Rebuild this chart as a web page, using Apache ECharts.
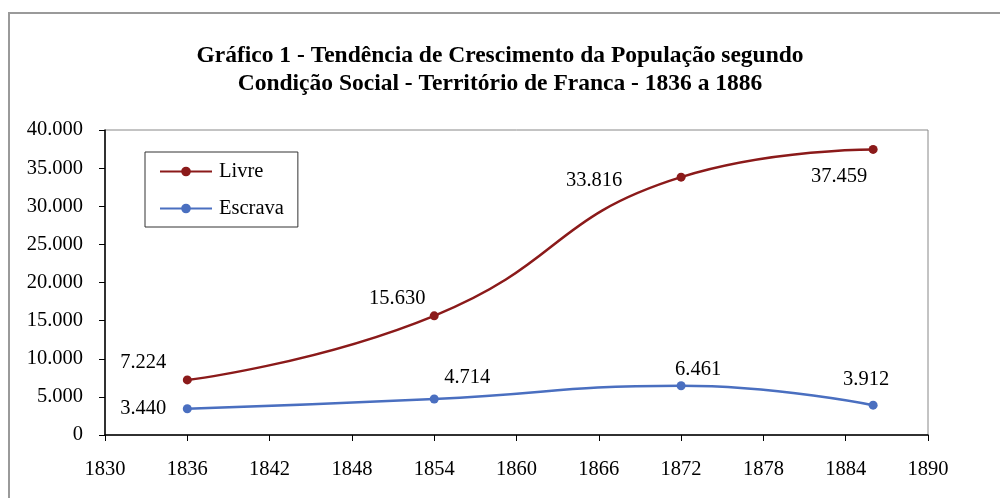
<!DOCTYPE html>
<html>
<head>
<meta charset="utf-8">
<script src="https://cdn.jsdelivr.net/npm/echarts@6/dist/echarts.min.js"></script>
<style>
  html, body { margin: 0; padding: 0; background: #fff; }
  #chart { width: 1000px; height: 498px; }
</style>
</head>
<body>
<div id="chart"></div>
<script>
// dados do gráfico
const anos = [1836, 1854, 1872, 1886]
const livre = [7224, 15630, 33816, 37459]
const escrava = [3440, 4714, 6461, 3912]
// deslocamento dos rótulos em relação ao ponto
const livreOffsets = [[-44, -17], [-37, -17], [-87, 3], [-34, 27]]
const escravaOffsets = [[-44, 0], [33, -21], [17, -16], [-7, -26]]

const serif = 'Liberation Serif'

// formata com ponto de milhar
function fmt(v) {
  return String(v).replace(/\B(?=(\d{3})+(?!\d))/g, '.')
}

function build(vals, offs) {
  return vals.map((v, i) => ({
    value: [anos[i], v],
    label: { offset: offs[i] },
  }))
}

const chart = echarts.init(document.getElementById('chart'))
chart.setOption({
  animation: false,
  graphic: [
    {
      type: 'rect',
      shape: { x: 9, y: 13, width: 1000, height: 500 },
      style: { fill: 'none', stroke: '#9a9a9a', lineWidth: 2 },
      z: 0,
    },
  ],
  title: {
    text: 'Gráfico 1 - Tendência de Crescimento da População segundo\nCondição Social - Território de Franca - 1836 a 1886',
    left: 495,
    top: 37,
    textAlign: 'center',
    textStyle: {
      fontFamily: serif,
      fontSize: 23.5,
      fontWeight: 'bold',
      color: '#000',
      lineHeight: 28,
    },
  },
  legend: {
    orient: 'vertical',
    left: 145,
    top: 152,
    padding: [9, 14, 8, 14],
    itemWidth: 52,
    itemHeight: 12,
    itemGap: 16,
    borderColor: '#333',
    borderWidth: 1,
    backgroundColor: '#fff',
    textStyle: { fontFamily: serif, fontSize: 20.5, color: '#000', padding: [0, 0, 0, 2] },
    data: ['Livre', 'Escrava'],
  },
  grid: {
    left: 105,
    right: 72,
    top: 130,
    bottom: 63,
    show: true,
    borderColor: '#888',
    borderWidth: 1,
  },
  xAxis: {
    type: 'value',
    min: 1830,
    max: 1890,
    interval: 6,
    splitLine: { show: false },
    axisLine: { lineStyle: { color: '#000', width: 1.5 } },
    axisTick: { length: 6, lineStyle: { color: '#000' } },
    axisLabel: {
      fontFamily: serif,
      fontSize: 20.5,
      color: '#000',
      margin: 24,
      formatter: v => String(v),
    },
  },
  yAxis: {
    type: 'value',
    min: 0,
    max: 40000,
    interval: 5000,
    splitLine: { show: false },
    axisLine: { show: true, lineStyle: { color: '#000', width: 1.5 } },
    axisTick: { show: true, length: 6, lineStyle: { color: '#000' } },
    axisLabel: {
      fontFamily: serif,
      fontSize: 20.5,
      color: '#000',
      margin: 22,
      formatter: fmt,
    },
  },
  series: [
    {
      name: 'Livre',
      type: 'line',
      smooth: true,
      data: build(livre, livreOffsets),
      symbol: 'circle',
      symbolSize: 9,
      lineStyle: { color: '#8b1a1a', width: 2.5 },
      itemStyle: { color: '#8b1a1a' },
      label: {
        show: true,
        position: 'inside',
        fontFamily: serif,
        fontSize: 20.5,
        color: '#000',
        formatter: p => fmt(p.value[1]),
      },
    },
    {
      name: 'Escrava',
      type: 'line',
      smooth: true,
      data: build(escrava, escravaOffsets),
      symbol: 'circle',
      symbolSize: 9,
      lineStyle: { color: '#4a6fc0', width: 2.5 },
      itemStyle: { color: '#4a6fc0' },
      label: {
        show: true,
        position: 'inside',
        fontFamily: serif,
        fontSize: 20.5,
        color: '#000',
        formatter: p => fmt(p.value[1]),
      },
    },
  ],
})
</script>
</body>
</html>
